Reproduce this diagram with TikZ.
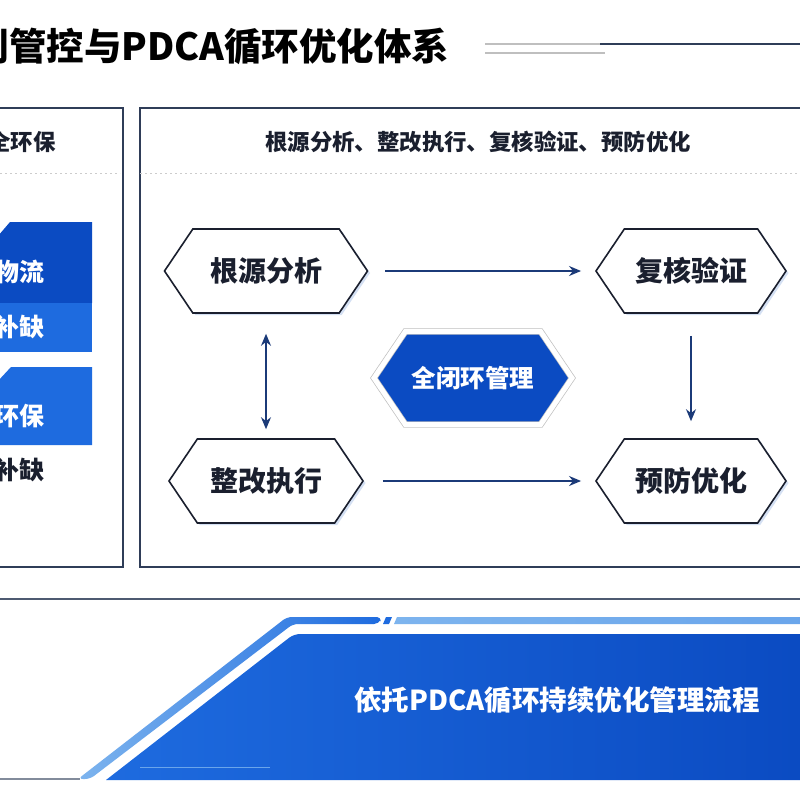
\documentclass[tikz,border=0pt]{standalone}
\usepackage{fontspec}
\setmainfont{Noto Sans CJK SC}
\usetikzlibrary{shapes.symbols, shadows, arrows.meta, positioning}

\definecolor{navy}{HTML}{1B3A78}
\definecolor{frame}{HTML}{2F3D58}
\definecolor{ink}{HTML}{1A1F2E}
\definecolor{deepblue}{HTML}{0B4BC2}
\definecolor{midblue}{HTML}{1E6BDF}
\definecolor{paleblue}{HTML}{7DB4EE}
\definecolor{glow}{HTML}{C3D3EE}

\begin{document}
\begin{tikzpicture}[x=1pt, y=-1pt,
  panel/.style={draw=frame, line width=1.2pt},
  sep/.style={draw=gray!40, dash pattern=on 2pt off 3pt, line width=0.6pt},
  hexbox/.style={shape=signal, signal to=west and east, signal pointer angle=112,
    draw=ink, line width=1.6pt, fill=white, minimum height=84pt, inner sep=0pt,
    font=\fontsize{28}{30}\selectfont\bfseries, text=ink,
    drop shadow={shadow xshift=2.5pt, shadow yshift=-2pt, fill=glow, opacity=0.7}},
  core/.style={shape=signal, signal to=west and east, signal pointer angle=112,
    fill=deepblue, draw=gray!50, double=white, double distance=5pt, line width=0.7pt,
    minimum width=198pt, minimum height=93pt, inner sep=0pt,
    font=\fontsize{24.5}{27}\selectfont\bfseries, text=white},
  flow/.style={-{Stealth[length=12pt, width=10pt]}, draw=navy, line width=1.4pt},
  both/.style={flow, {Stealth[length=12pt, width=10pt]}-{Stealth[length=12pt, width=10pt]}},
  head/.style={font=\fontsize{22.4}{25}\selectfont\bfseries, text=ink},
  tag/.style={font=\fontsize{25}{27}\selectfont\bfseries, text=white, anchor=east}
]
\useasboundingbox (0,0) rectangle (800,800);
\clip (0,0) rectangle (800,800);
\fill[white] (0,0) rectangle (800,800);

% Title
\node[anchor=east, font=\fontsize{37.5}{40}\selectfont\bfseries, text=black] (title) at (453,46) {机制管控与PDCA循环优化体系};
\draw[gray!50, line width=1.5pt] (485,44) -- (600,44);
\draw[frame, line width=1.5pt] (600,44) -- (800,44);
\draw[gray!50, line width=1.2pt] (485,53) -- (605,53);

% Panels
\draw[panel] (-5,108) rectangle (123,567);
\draw[panel] (140,108) rectangle (805,567);
\draw[sep] (0,173) -- (120,173);
\draw[sep] (140,173) -- (800,173);

% Left panel
\node[head, anchor=east] (safety) at (59,142) {安全环保};
\fill[deepblue] (-2,236) -- (10,222) -- (92,222) -- (92,303) -- (-2,303) -- cycle;
\fill[midblue] (-2,303) rectangle (92,352);
\fill[midblue] (-2,381) -- (11,367) -- (92,367) -- (92,445) -- (-2,445) -- cycle;
\node[tag] (cargo) at (48,272) {物流};
\node[tag] (gap1) at (48,327) {查漏补缺};
\node[tag] (eco) at (48,416) {安全环保};
\node[tag, text=ink] (gap2) at (48,470) {查漏补缺};

% Right panel
\node[head] (steps) at (478,142) {根源分析、整改执行、复核验证、预防优化};
\node[hexbox, minimum width=203pt] (root) at (266,271) {根源分析};
\node[hexbox, minimum width=190pt] (verify) at (691,271) {复核验证};
\node[hexbox, minimum width=194pt] (fix) at (266,481) {整改执行};
\node[hexbox, minimum width=190pt] (prevent) at (691,481) {预防优化};
\node[core] (loop) at (473,378) {全闭环管理};

\draw[flow] ([xshift=17pt]root.east) -- ([xshift=-14pt]verify.west);
\draw[flow] ([xshift=19pt]fix.east) -- ([xshift=-14pt]prevent.west);
\draw[both] ([yshift=-20pt]root.south) -- ([yshift=9pt]fix.north);
\draw[flow] ([yshift=-22pt]verify.south) -- ([yshift=17pt]prevent.north);

% Banner
\draw[frame!85, line width=1.5pt] (0,599) -- (800,599);
\draw[frame!60, line width=1.2pt] (0,779) -- (80,779);
\shade[left color=paleblue, right color=midblue, rounded corners=5pt]
  (78,779) -- (287,617) -- (382,617) -- (379,624) -- (293,624) -- (90,779) -- cycle;
\fill[midblue] (386,617) -- (392,617) -- (389,624) -- (383,624) -- cycle;
\shade[left color=paleblue, right color=paleblue!80!midblue]
  (397,617) -- (800,617) -- (800,624) -- (394,624) -- cycle;
\shade[left color=midblue, right color=deepblue]
  (106,780) [rounded corners=6pt] -- (294,634) [sharp corners] -- (800,634) -- (800,780) -- cycle;
\draw[paleblue!80!midblue, line width=1pt] (140,767) -- (270,767);
\node[font=\fontsize{27.5}{30}\selectfont\bfseries, text=white] (motto) at (557,700) {依托PDCA循环持续优化管理流程};

\end{tikzpicture}
\end{document}
